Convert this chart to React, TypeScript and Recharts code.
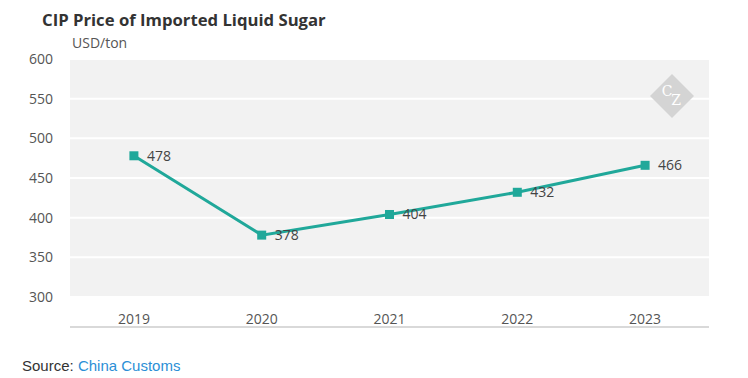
import React from 'react';
import { LineChart, Line, XAxis, YAxis, CartesianGrid, LabelList } from 'recharts';

const years = ['2019', '2020', '2021', '2022', '2023'];
const prices = [478, 378, 404, 432, 466];
const yTicks = [300, 350, 400, 450, 500, 550, 600];
const bandTicks = [0, 1, 2, 3, 4, 5];

const data = years.map((y, i) => ({ year: y, price: prices[i], idx: i + 0.5 }));

const LINE = '#20a89a';
const FONT = '"Open Sans", sans-serif';

const Marker = (props: any) => {
  const { cx, cy } = props;
  if (cx == null || cy == null) return null;
  return <rect x={cx - 4.5} y={cy - 4.5} width={9} height={9} fill={LINE} />;
};

export default function App() {
  return (
    <div style={{ position: 'absolute', left: 0, top: 0, width: 748, height: 378, background: '#fff', fontFamily: FONT }}>
      <div style={{ position: 'absolute', left: 42, top: 8, fontSize: 16.7, fontWeight: 700, color: '#333', whiteSpace: 'nowrap' }}>
        CIP Price of Imported Liquid Sugar
      </div>
      <div style={{ position: 'absolute', left: 72, top: 33, fontSize: 14, color: '#555', whiteSpace: 'nowrap' }}>USD/ton</div>
      <div style={{ position: 'absolute', left: 0, top: 0 }}>
        <LineChart width={748} height={340} data={data} margin={{ top: 59, right: 39, bottom: 0, left: 10 }}>
          <CartesianGrid fill="#f2f2f2" stroke="#ffffff" strokeWidth={2} vertical={false} />
          <XAxis
            xAxisId="num"
            type="number"
            dataKey="idx"
            domain={[0, 5]}
            ticks={bandTicks}
            allowDataOverflow
            height={43}
            tick={false}
            tickLine={{ stroke: '#d9d9d9' }}
            axisLine={{ stroke: '#d9d9d9', strokeWidth: 2 }}
            tickSize={6}
          />
          <XAxis
            xAxisId="cat"
            dataKey="year"
            hide
          />
          <YAxis
            domain={[300, 600]}
            ticks={yTicks}
            width={60}
            axisLine={false}
            tickLine={false}
            tickMargin={11}
            tick={{ fill: '#555', fontSize: 14, fontFamily: FONT }}
          />
          <Line
            xAxisId="num"
            dataKey="price"
            stroke={LINE}
            strokeWidth={3}
            dot={<Marker />}
            activeDot={false}
            isAnimationActive={false}
          >
            <LabelList dataKey="price" position="right" offset={13} fill="#444" fontSize={14} fontFamily={FONT} />
          </Line>
        </LineChart>
      </div>
      {years.map((y, i) => (
        <div key={y} style={{ position: 'absolute', left: 70 + 127.8 * (i + 0.5) - 30, width: 60, textAlign: 'center', top: 309, fontSize: 14, color: '#555' }}>
          {y}
        </div>
      ))}
      <svg style={{ position: 'absolute', left: 650, top: 74 }} width={44} height={44}>
        <polygon points="22,0 44,22 22,44 0,22" fill="#d4d4d4" />
        <text x={17} y={22} fontFamily="'DejaVu Serif', serif" fontSize={14} fill="#fff" textAnchor="middle">C</text>
        <text x={26} y={31} fontFamily="'DejaVu Serif', serif" fontSize={14} fill="#fff" textAnchor="middle">Z</text>
      </svg>
      <div style={{ position: 'absolute', left: 22, top: 357, fontSize: 15, fontFamily: '"Liberation Sans", Arial, sans-serif', color: '#333', whiteSpace: 'nowrap' }}>
        Source: <span style={{ color: '#2b8fd6' }}>China Customs</span>
      </div>
    </div>
  );
}
